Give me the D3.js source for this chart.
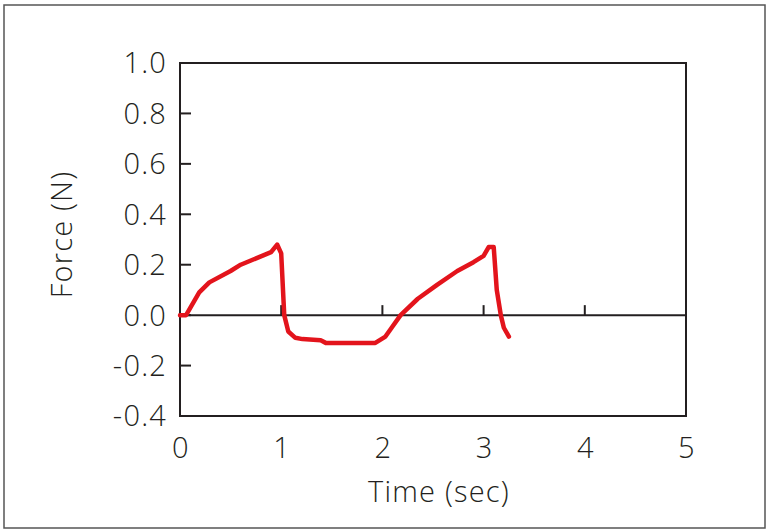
<!DOCTYPE html>
<html>
<head>
    <meta charset="utf-8">
    <style>
        body { margin: 0; background: #fff; }
        text {
          font-family: "Open Sans", "Noto Sans", sans-serif;
          font-weight: 300;
          fill: #231f20;
          letter-spacing: 1.2px;
        }
    </style>
    <script src="https://d3js.org/d3.v7.min.js"></script>
</head>
<body>
    <script>
    // time (sec) and force (N)
    var timeSec = [0, 0.06, 0.19, 0.29, 0.50, 0.60, 0.90, 0.96, 1.00, 1.03, 1.07, 1.14, 1.21, 1.39, 1.44,
                   1.93, 2.03, 2.10, 2.18, 2.35, 2.54, 2.74, 2.90, 3.00, 3.05, 3.10, 3.13, 3.17, 3.20, 3.25];
    var forceN  = [0, 0.0, 0.09, 0.13, 0.175, 0.20, 0.25, 0.28, 0.245, 0.0, -0.065, -0.09, -0.095, -0.10, -0.11,
                   -0.11, -0.085, -0.045, 0.0, 0.065, 0.12, 0.175, 0.21, 0.235, 0.27, 0.27, 0.10, 0.0, -0.05, -0.085];
    var xTicks = [0, 1, 2, 3, 4, 5];
    var yTicks = [-0.4, -0.2, 0.0, 0.2, 0.4, 0.6, 0.8, 1.0];

    var width = 768, height = 532;
    var margin = {top: 63, right: 82, bottom: 116, left: 180};

    var svg = d3.select("body").append("svg")
        .attr("width", width)
        .attr("height", height);

    // outer frame
    svg.append("rect")
        .attr("x", 4).attr("y", 5)
        .attr("width", 761).attr("height", 523)
        .attr("fill", "none")
        .attr("stroke", "#555")
        .attr("stroke-width", 1.5);

    var x = d3.scaleLinear()
        .domain([0, 5])
        .range([margin.left, width - margin.right]);

    var y = d3.scaleLinear()
        .domain([-0.4, 1.0])
        .range([height - margin.bottom, margin.top]);

    // plot box
    svg.append("rect")
        .attr("x", x(0)).attr("y", y(1.0))
        .attr("width", x(5) - x(0)).attr("height", y(-0.4) - y(1.0))
        .attr("fill", "none")
        .attr("stroke", "#231f20")
        .attr("stroke-width", 2);

    // zero line with upward ticks
    svg.append("line")
        .attr("x1", x(0)).attr("x2", x(5))
        .attr("y1", y(0)).attr("y2", y(0))
        .attr("stroke", "#231f20")
        .attr("stroke-width", 2);

    svg.selectAll(".xtick")
        .data(xTicks.slice(1, -1))
        .enter().append("line")
        .attr("x1", function(d) { return x(d); })
        .attr("x2", function(d) { return x(d); })
        .attr("y1", y(0)).attr("y2", y(0) - 10)
        .attr("stroke", "#231f20")
        .attr("stroke-width", 2);

    // left ticks pointing inward
    svg.selectAll(".ytick")
        .data(yTicks.slice(1, -1))
        .enter().append("line")
        .attr("x1", x(0)).attr("x2", x(0) + 11)
        .attr("y1", function(d) { return y(d); })
        .attr("y2", function(d) { return y(d); })
        .attr("stroke", "#231f20")
        .attr("stroke-width", 2);

    // tick labels (plain hyphen for negatives, as in the original)
    svg.selectAll(".ylab")
        .data(yTicks)
        .enter().append("text")
        .attr("x", x(0) - 13)
        .attr("y", function(d) { return y(d); })
        .attr("dy", "0.36em")
        .attr("text-anchor", "end")
        .style("font-size", "29px")
        .text(function(d) { return d.toFixed(1); });

    svg.selectAll(".xlab")
        .data(xTicks)
        .enter().append("text")
        .attr("x", function(d) { return x(d) + 1; })
        .attr("y", y(-0.4) + 42)
        .attr("text-anchor", "middle")
        .style("font-size", "29px")
        .text(function(d) { return d; });

    // axis titles
    svg.append("text")
        .attr("x", (x(0) + x(5)) / 2 + 6)
        .attr("y", 502)
        .attr("text-anchor", "middle")
        .style("font-size", "29px")
        .text("Time (sec)");

    svg.append("text")
        .attr("transform", "translate(72," + ((y(1.0) + y(-0.4)) / 2 - 5) + ")rotate(-90)")
        .attr("text-anchor", "middle")
        .style("font-size", "29px")
        .text("Force (N)");

    // force trace
    var line = d3.line()
        .x(function(d, i) { return x(timeSec[i]); })
        .y(function(d) { return y(d); });

    svg.append("path")
        .attr("d", line(forceN))
        .attr("fill", "none")
        .attr("stroke", "#e3141c")
        .attr("stroke-width", 4.5)
        .attr("stroke-linejoin", "round")
        .attr("stroke-linecap", "round");
    </script>
</body>
</html>
